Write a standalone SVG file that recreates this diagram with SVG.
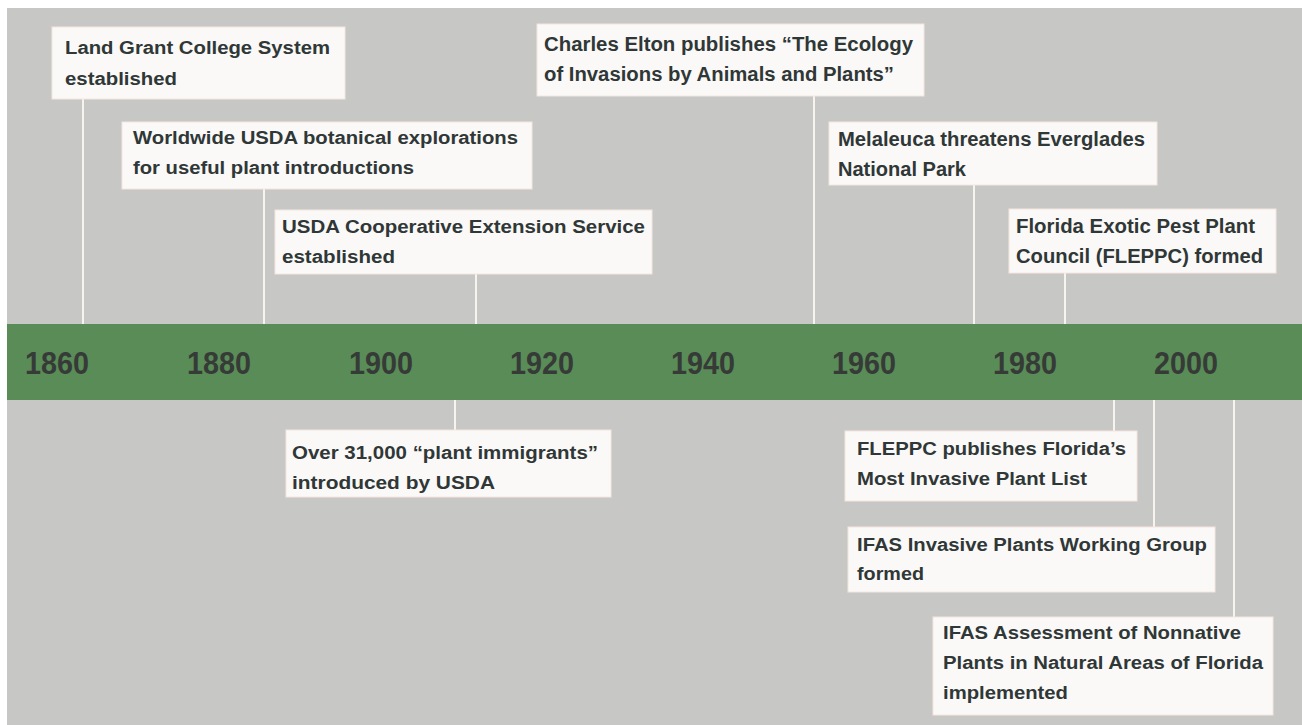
<svg xmlns="http://www.w3.org/2000/svg" width="1302" height="725" viewBox="0 0 1302 725">
<style>
.box{fill:#fbf9f7;stroke:#f3e6de;stroke-width:1}
.t{font-family:"Liberation Sans",Arial,sans-serif;font-weight:bold;fill:#2f3737;font-size:18px}
.c{font-size:19.5px}
.b{font-size:18px}
.yr{font-family:"Liberation Sans",Arial,sans-serif;font-weight:bold;fill:#363b37;font-size:31px;text-anchor:middle}
.ln{stroke:#f7f3ef;stroke-width:2;fill:none}
</style>
<rect x="0" y="0" width="1302" height="725" fill="#ffffff"/>
<rect x="7" y="8" width="1295" height="717" fill="#c7c7c6"/>
<g id="connectors">
<line class="ln" x1="83" y1="99" x2="83" y2="324"/>
<line class="ln" x1="264" y1="189" x2="264" y2="324"/>
<line class="ln" x1="476" y1="274" x2="476" y2="324"/>
<line class="ln" x1="814" y1="96" x2="814" y2="324"/>
<line class="ln" x1="974" y1="185" x2="974" y2="324"/>
<line class="ln" x1="1065" y1="273" x2="1065" y2="324"/>
<line class="ln" x1="455" y1="400" x2="455" y2="430"/>
<line class="ln" x1="1114" y1="400" x2="1114" y2="431"/>
<line class="ln" x1="1154" y1="400" x2="1154" y2="527"/>
<line class="ln" x1="1234" y1="400" x2="1234" y2="617"/>
</g>
<g id="timeline">
<rect x="7" y="324" width="1295" height="76" fill="#5a8c58"/>
<text class="yr" x="57" y="374" textLength="64" lengthAdjust="spacingAndGlyphs">1860</text>
<text class="yr" x="219" y="374" textLength="64" lengthAdjust="spacingAndGlyphs">1880</text>
<text class="yr" x="381" y="374" textLength="64" lengthAdjust="spacingAndGlyphs">1900</text>
<text class="yr" x="542" y="374" textLength="64" lengthAdjust="spacingAndGlyphs">1920</text>
<text class="yr" x="703" y="374" textLength="64" lengthAdjust="spacingAndGlyphs">1940</text>
<text class="yr" x="864" y="374" textLength="64" lengthAdjust="spacingAndGlyphs">1960</text>
<text class="yr" x="1025" y="374" textLength="64" lengthAdjust="spacingAndGlyphs">1980</text>
<text class="yr" x="1186" y="374" textLength="64" lengthAdjust="spacingAndGlyphs">2000</text>
</g>
<g id="n1">
<rect class="box" x="52" y="27" width="293" height="72"/>
<text class="t" x="65" y="54" textLength="265" lengthAdjust="spacingAndGlyphs">Land Grant College System</text>
<text class="t" x="65" y="85" textLength="112" lengthAdjust="spacingAndGlyphs">established</text>
</g>
<g id="n2">
<rect class="box" x="122" y="122" width="410" height="67"/>
<text class="t" x="133" y="144" textLength="385" lengthAdjust="spacingAndGlyphs">Worldwide USDA botanical explorations</text>
<text class="t" x="133" y="174" textLength="281" lengthAdjust="spacingAndGlyphs">for useful plant introductions</text>
</g>
<g id="n3">
<rect class="box" x="275" y="210" width="377" height="64"/>
<text class="t" x="282" y="233" textLength="363" lengthAdjust="spacingAndGlyphs">USDA Cooperative Extension Service</text>
<text class="t" x="282" y="263" textLength="113" lengthAdjust="spacingAndGlyphs">established</text>
</g>
<g id="n4">
<rect class="box" x="537" y="24" width="387" height="72"/>
<text class="t c" x="544" y="51" textLength="369" lengthAdjust="spacingAndGlyphs">Charles Elton publishes “The Ecology</text>
<text class="t c" x="544" y="81" textLength="350" lengthAdjust="spacingAndGlyphs">of Invasions by Animals and Plants”</text>
</g>
<g id="n5">
<rect class="box" x="829" y="122" width="328" height="63"/>
<text class="t c" x="838" y="146" textLength="307" lengthAdjust="spacingAndGlyphs">Melaleuca threatens Everglades</text>
<text class="t c" x="838" y="176" textLength="128" lengthAdjust="spacingAndGlyphs">National Park</text>
</g>
<g id="n6">
<rect class="box" x="1009" y="209" width="267" height="64"/>
<text class="t c" x="1016" y="233" textLength="239" lengthAdjust="spacingAndGlyphs">Florida Exotic Pest Plant</text>
<text class="t c" x="1016" y="263" textLength="247" lengthAdjust="spacingAndGlyphs">Council (FLEPPC) formed</text>
</g>
<g id="n7">
<rect class="box" x="286" y="430" width="325" height="67"/>
<text class="t" x="292" y="459" textLength="306" lengthAdjust="spacingAndGlyphs">Over 31,000 “plant immigrants”</text>
<text class="t" x="292" y="489" textLength="203" lengthAdjust="spacingAndGlyphs">introduced by USDA</text>
</g>
<g id="n8">
<rect class="box" x="845" y="431" width="292" height="70"/>
<text class="t b" x="857" y="455" textLength="269" lengthAdjust="spacingAndGlyphs">FLEPPC publishes Florida’s</text>
<text class="t b" x="857" y="485" textLength="230" lengthAdjust="spacingAndGlyphs">Most Invasive Plant List</text>
</g>
<g id="n9">
<rect class="box" x="848" y="527" width="367" height="65"/>
<text class="t b" x="857" y="551" textLength="350" lengthAdjust="spacingAndGlyphs">IFAS Invasive Plants Working Group</text>
<text class="t b" x="857" y="580" textLength="67" lengthAdjust="spacingAndGlyphs">formed</text>
</g>
<g id="n10">
<rect class="box" x="933" y="617" width="340" height="98"/>
<text class="t b" x="943" y="639" textLength="298" lengthAdjust="spacingAndGlyphs">IFAS Assessment of Nonnative</text>
<text class="t b" x="943" y="669" textLength="320" lengthAdjust="spacingAndGlyphs">Plants in Natural Areas of Florida</text>
<text class="t b" x="943" y="699" textLength="125" lengthAdjust="spacingAndGlyphs">implemented</text>
</g>
</svg>
